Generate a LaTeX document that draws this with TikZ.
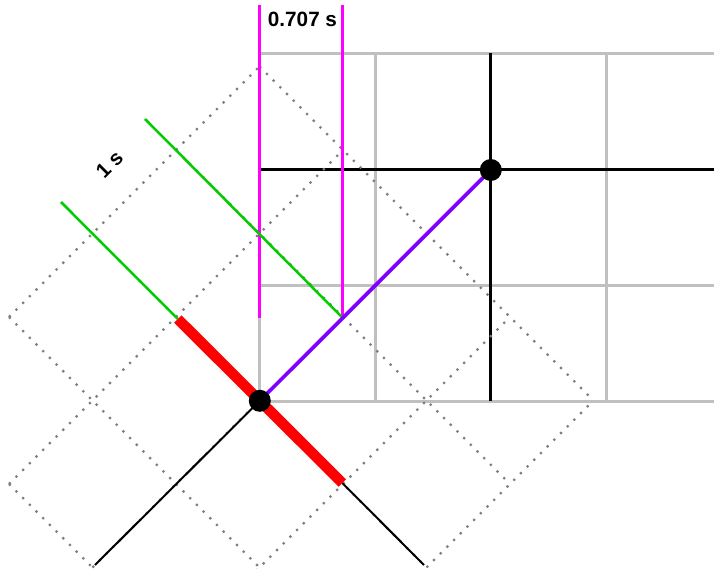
\documentclass[tikz,border=0pt]{standalone}
\usepackage{fontspec}
\setmainfont{Liberation Sans}
\definecolor{gridgray}{RGB}{192,192,192}
\definecolor{dotgray}{RGB}{128,128,128}
\definecolor{lgreen}{RGB}{0,204,0}
\definecolor{vpurple}{RGB}{128,0,255}
\definecolor{pmagenta}{RGB}{255,0,255}
\begin{document}
\begin{tikzpicture}[x=1pt,y=-1pt,
  gridline/.style={gridgray, line width=3pt},
  axisline/.style={black, line width=3pt},
  dotline/.style={dotgray, line width=2.2pt, dash pattern=on 2.2pt off 7.25pt},
  thinline/.style={black, line width=2pt},
  magline/.style={pmagenta, line width=3pt},
  greenline/.style={lgreen, line width=2.5pt},
  redline/.style={red, line width=10.5pt},
  purpleline/.style={vpurple, line width=3.7pt},
  blackdot/.style={fill=black, draw=none},
  lbl/.style={font=\bfseries\fontsize{20.7}{24}\selectfont, inner sep=0pt, text=black}]
\useasboundingbox (0,0) rectangle (714,569);
% key points
\coordinate (O) at (259.8,400.8);
\coordinate (B) at (490.8,170.0);
\coordinate (R1) at (177.8,319.0);
\coordinate (R2) at (342.3,483.0);
\coordinate (M) at (342.8,318.0);
\coordinate (G1s) at (61,202);
\coordinate (G2s) at (145,119);
\coordinate (T1) at (95,565);
\coordinate (T2) at (424,565);
\coordinate (M1top) at (259.8,5);
\coordinate (M1bot) at (259.8,318);
\coordinate (M2top) at (342.8,5);
% gray grid
\foreach \x in {259.8,375.4,490.8,606.2} \draw[gridline] (\x,53.5) -- (\x,401);
\foreach \y in {53.5,170,285.6,401} \draw[gridline] (259.8,\y) -- (714,\y);
% black axes through B
\draw[axisline] (259.8,170) -- (714,170);
\draw[axisline] (490.8,53.5) -- (490.8,401);
% dotted rotated lattice: point (P,Q) -> (259.5+83.5(P-Q), 400.5-83.5(P+Q))
\begin{scope}
\clip (0,0) rectangle (714,569);
% lines of constant P, from Q=q1 to Q=q2
\foreach \p/\qa/\qb in {-2/-2/1, -1/-2/2, 0/-2/2, 1/-2/2, 2/-2/2}
  \draw[dotline] ({259.5+83.5*(\p-\qb)},{400.5-83.5*(\p+\qb)}) -- ({259.5+83.5*(\p-\qa)},{400.5-83.5*(\p+\qa)});
% lines of constant Q, from P=p1 to P=p2
\foreach \q/\pa/\pb in {-2/-2/2, -1/-2/2, 0/-2/2, 1/-2/2, 2/-1/2}
  \draw[dotline] ({259.5+83.5*(\pa-\q)},{400.5-83.5*(\pa+\q)}) -- ({259.5+83.5*(\pb-\q)},{400.5-83.5*(\pb+\q)});
\end{scope}
% magenta verticals
\draw[magline] (M1top) -- (M1bot);
\draw[magline] (M2top) -- (M);
% green lines
\draw[greenline] (G1s) -- (R1);
\draw[greenline] (G2s) -- (M);
% thin black diagonals
\draw[thinline] (O) -- (T1);
\draw[thinline] (R2) -- (T2);
% red thick segment
\draw[redline] (R1) -- (R2);
% purple
\draw[purpleline] (O) -- (B);
% dots
\fill[blackdot] (O) circle (11);
\fill[blackdot] (B) circle (11);
% labels
\node[lbl, anchor=base] (L1) at (302.5,26.7) {0.707 s};
\node[lbl, rotate=45] (L2) at (109.5,164.5) {1 s};
\end{tikzpicture}
\end{document}
